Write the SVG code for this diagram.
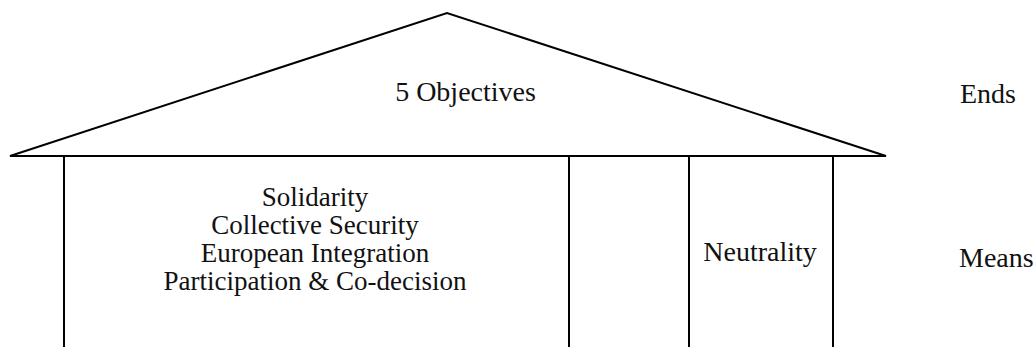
<svg xmlns="http://www.w3.org/2000/svg" width="1035" height="347" viewBox="0 0 1035 347">
<style>
.ln{stroke:#000;stroke-width:2;fill:none}
.t{font-family:'Liberation Serif','Times New Roman','DejaVu Serif',serif;font-size:28px;fill:#111}
.m{font-size:27px}
.c{text-anchor:middle}
</style>
<rect width="1035" height="347" fill="#fff"/>
<g id="roof">
<polygon class="ln" points="10,156 447,13 886,156"/>
<text class="t c" x="465.5" y="101">5 Objectives</text>
</g>
<g id="connectors">
<line class="ln" x1="64" y1="156" x2="64" y2="347"/>
<line class="ln" x1="569" y1="156" x2="569" y2="347"/>
<line class="ln" x1="689" y1="156" x2="689" y2="347"/>
<line class="ln" x1="833" y1="156" x2="833" y2="347"/>
</g>
<g id="pillar-main">
<text class="t m c" x="315"><tspan x="315" y="206">Solidarity</tspan><tspan x="315" y="234">Collective Security</tspan><tspan x="315" y="262">European Integration</tspan><tspan x="315" y="290">Participation &amp; Co-decision</tspan></text>
</g>
<g id="pillar-neutrality">
<text class="t c" x="760" y="261">Neutrality</text>
</g>
<g id="labels">
<text class="t" x="960" y="103">Ends</text>
<text class="t" x="959" y="267">Means</text>
</g>
</svg>
